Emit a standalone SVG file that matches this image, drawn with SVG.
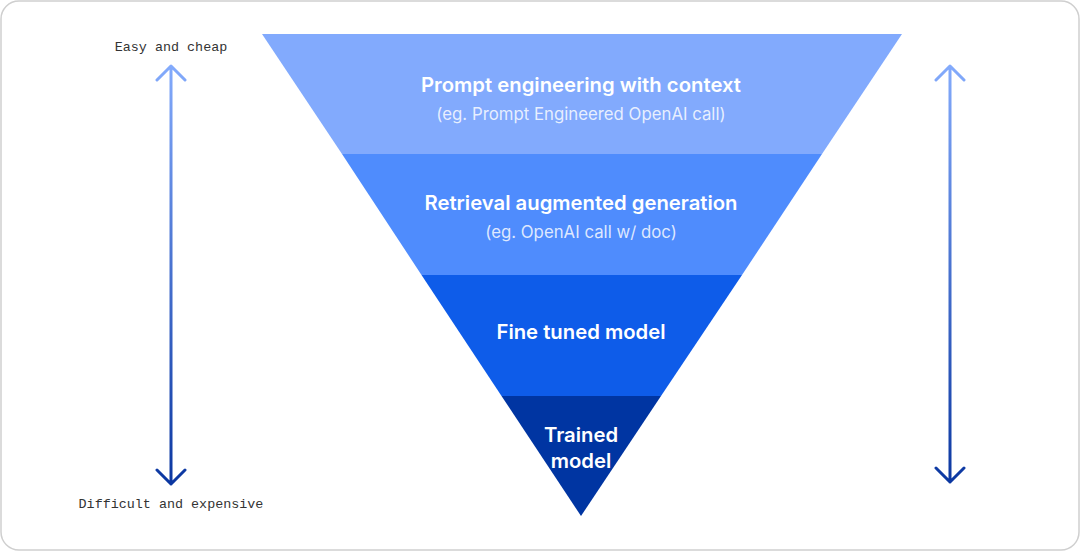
<svg xmlns="http://www.w3.org/2000/svg" width="1080" height="551" viewBox="0 0 1080 551">
<defs>
<linearGradient id="gl" gradientUnits="userSpaceOnUse" x1="0" y1="64" x2="0" y2="486">
<stop offset="0" stop-color="#84abfc"/>
<stop offset="1" stop-color="#0a36a0"/>
</linearGradient>
</defs>
<style>
.mono{font-family:"Liberation Mono","DejaVu Sans Mono",monospace;font-size:13.4px;fill:#333}
.t{font-family:Inter,"Liberation Sans",sans-serif;font-weight:600;font-size:20.3px;fill:#fff;text-anchor:middle}
.s{font-family:Inter,"Liberation Sans",sans-serif;font-size:16.8px;fill:#fff;fill-opacity:0.82;text-anchor:middle}
.arr{fill:none;stroke:url(#gl);stroke-width:3;stroke-linecap:round;stroke-linejoin:round}
</style>
<rect x="1" y="1" width="1078" height="549" rx="18" fill="#fff" stroke="#cfcfcf" stroke-width="1.5"/>
<g id="layer1"><polygon points="262,34 902,34 822,154 342,154" fill="#82aafd"/>
<text class="t" x="581" y="92">Prompt engineering with context</text>
<text class="s" x="581" y="120">(eg. Prompt Engineered OpenAI call)</text></g>
<g id="layer2"><polygon points="342,154 822,154 742,275 421.5,275" fill="#4f8cfd"/>
<text class="t" x="581" y="210">Retrieval augmented generation</text>
<text class="s" x="581" y="238">(eg. OpenAI call w/ doc)</text></g>
<g id="layer3"><polygon points="421.5,275 742,275 661,396 501.5,396" fill="#0e5ce9"/>
<text class="t" x="581" y="339">Fine tuned model</text></g>
<g id="layer4"><polygon points="501.5,396 661,396 581,516" fill="#0035a2"/>
<text class="t" x="581" y="442">Trained</text>
<text class="t" x="581" y="468">model</text></g>
<g id="labels">
<text class="mono" x="171" y="51" text-anchor="middle">Easy and cheap</text>
<text class="mono" x="171" y="508" text-anchor="middle">Difficult and expensive</text>
</g>
<g id="connectors">
<path class="arr" d="M171,66 V484 M157,80 L171,66 L185,80 M157,470 L171,484 L185,470"/>
<path class="arr" d="M950,66 V482 M936,80 L950,66 L964,80 M936,468 L950,482 L964,468"/>
</g>
</svg>
